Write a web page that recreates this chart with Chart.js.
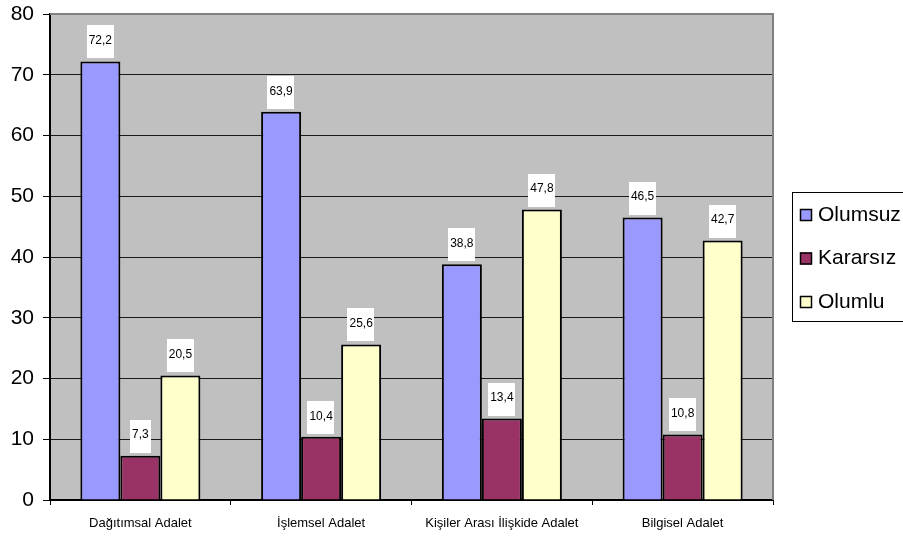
<!DOCTYPE html>
<html><head><meta charset="utf-8">
<script src="https://cdn.jsdelivr.net/npm/chart.js@4/dist/chart.umd.min.js"></script>
<style>html,body{margin:0;padding:0;background:#fff;}#wrap{width:903px;height:537px;}</style>
</head><body><div id="wrap"><canvas id="c" width="903" height="537"></canvas></div>
<script>
const categories = ['Dağıtımsal Adalet', 'İşlemsel Adalet', 'Kişiler Arası İlişkide Adalet', 'Bilgisel Adalet'];
const olumsuz = [72.2, 63.9, 38.8, 46.5];
const kararsiz = [7.3, 10.4, 13.4, 10.8];
const olumlu = [20.5, 25.6, 47.8, 42.7];
const seriesNames = ['Olumsuz', 'Kararsız', 'Olumlu'];
const yTicks = [0, 10, 20, 30, 40, 50, 60, 70, 80];

const FONT = "'Liberation Sans', Arial, sans-serif";

const plotBg = {
  id: 'plotBg',
  beforeDraw(chart) {
    const {ctx, chartArea: a} = chart;
    ctx.save();
    ctx.fillStyle = '#C0C0C0';
    ctx.fillRect(a.left, a.top, a.right - a.left, a.bottom - a.top);
    ctx.restore();
  },
  afterDraw(chart) {
    const {ctx, chartArea: a} = chart;
    ctx.save();
    ctx.strokeStyle = '#808080';
    ctx.lineWidth = 2;
    ctx.beginPath();
    ctx.moveTo(a.left, a.top);
    ctx.lineTo(a.right, a.top);
    ctx.lineTo(a.right, a.bottom);
    ctx.stroke();
    ctx.restore();
  }
};

const valueLabels = {
  id: 'valueLabels',
  afterDatasetsDraw(chart) {
    const ctx = chart.ctx;
    ctx.save();
    ctx.font = '12px ' + FONT;
    ctx.textAlign = 'center';
    ctx.textBaseline = 'middle';
    chart.data.datasets.forEach((ds, di) => {
      const meta = chart.getDatasetMeta(di);
      meta.data.forEach((el, i) => {
        const txt = ds.data[i].toFixed(1).replace('.', ',');
        const tw = ctx.measureText(txt).width;
        const w = tw + 4, h = 33;
        const bottom = el.y - 3;
        ctx.fillStyle = '#FFFFFF';
        ctx.fillRect(Math.round(el.x - w / 2), Math.round(bottom - h), Math.round(w), h);
        ctx.fillStyle = '#000';
        ctx.fillText(txt, el.x, bottom - h / 2 - 1);
      });
    });
    ctx.restore();
  }
};

const boxLegend = {
  id: 'boxLegend',
  afterDraw(chart) {
    const ctx = chart.ctx;
    ctx.save();
    ctx.strokeStyle = '#000';
    ctx.lineWidth = 1;
    ctx.strokeRect(792.5, 192.5, 130, 129);
    ctx.font = '21px ' + FONT;
    ctx.textBaseline = 'middle';
    ctx.textAlign = 'left';
    chart.data.datasets.forEach((ds, i) => {
      const cy = 215 + i * 43.5;
      ctx.fillStyle = ds.backgroundColor;
      ctx.fillRect(800, cy - 6, 12, 12);
      ctx.strokeStyle = '#000';
      ctx.lineWidth = 1.5;
      ctx.strokeRect(800.5, cy - 5.5, 11, 11);
      ctx.fillStyle = '#000';
      ctx.fillText(ds.label, 818, cy);
    });
    ctx.restore();
  }
};

new Chart(document.getElementById('c'), {
  type: 'bar',
  data: {
    labels: categories,
    datasets: [
      {label: seriesNames[0], data: olumsuz, backgroundColor: '#9999FF', borderColor: '#000', borderWidth: 2},
      {label: seriesNames[1], data: kararsiz, backgroundColor: '#993366', borderColor: '#000', borderWidth: 2},
      {label: seriesNames[2], data: olumlu, backgroundColor: '#FFFFCC', borderColor: '#000', borderWidth: 2}
    ]
  },
  options: {
    responsive: false,
    animation: false,
    devicePixelRatio: 1,
    layout: {padding: {top: 14, right: 130, left: 0, bottom: 0}},
    datasets: {bar: {categoryPercentage: 0.664, barPercentage: 1.0, borderSkipped: 'bottom'}},
    plugins: {legend: {display: false}, tooltip: {enabled: false}},
    scales: {
      x: {
        offset: true,
        grid: {display: true, drawOnChartArea: false, drawTicks: true, tickLength: 5, tickColor: '#000', color: '#000', offset: true},
        border: {display: true, color: '#000', width: 2},
        ticks: {color: '#000', font: {family: FONT, size: 13}, padding: 11, maxRotation: 0, autoSkip: false},
        afterFit(s) { s.height = 37; s.paddingLeft = 0; s.paddingRight = 0; }
      },
      y: {
        min: 0, max: 80,
        afterBuildTicks(s) { s.ticks = yTicks.map(v => ({value: v})); },
        grid: {
          color: (c) => (c.tick && c.tick.value === 80) ? 'rgba(0,0,0,0)' : '#1a1a1a',
          lineWidth: 1, tickLength: 7, tickColor: '#000'
        },
        border: {display: true, color: '#000', width: 2},
        ticks: {color: '#000', font: {family: FONT, size: 21}, padding: 9},
        afterFit(s) { s.width = 50; s.paddingTop = 0; s.paddingBottom = 0; }
      }
    }
  },
  plugins: [plotBg, valueLabels, boxLegend]
});
</script></body></html>
